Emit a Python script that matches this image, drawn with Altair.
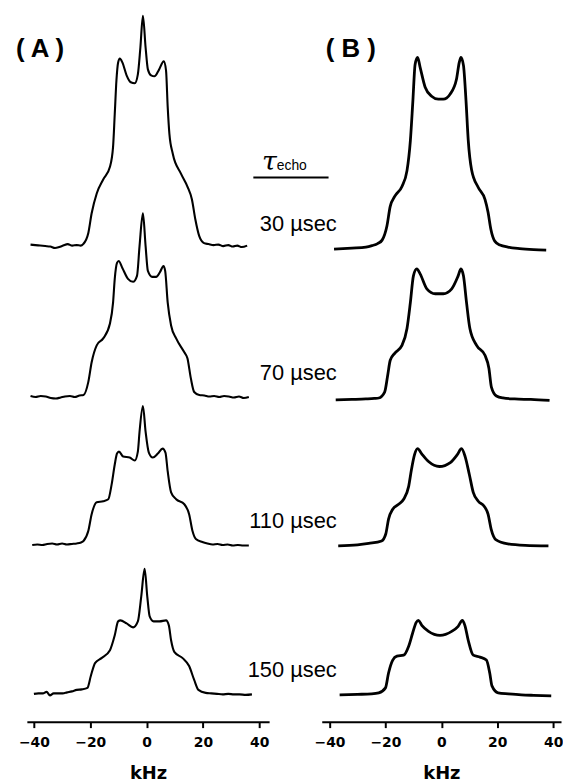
import altair as alt
import pandas as pd

# ---------------- Panel (A): experimental spectra (kHz, height above own baseline) ----------------
A1_khz = [-41.2, -39.5, -37.8, -36.0, -34.2, -32.5, -31.0, -29.6, -28.0, -26.4,
          -24.8, -23.4, -22.5, -20.7, -19.5, -17.7, -15.4, -13.0, -11.9, -11.3,
          -10.7, -10.1, -9.5, -8.6, -7.1, -5.6, -4.2, -3.1, -2.2, -1.3,
          -0.35, 0.46, 1.6, 2.8, 4.3, 6.1, 6.9, 7.5, 8.1, 9.3,
          12.2, 14.5, 16.1, 17.3, 18.7, 20.4, 22.0, 23.8, 25.5, 27.2,
          29.0, 30.6, 32.2, 33.8, 35.7]
A1_h = [1.5, 1.0, 0.5, 0.0, -0.5, -2.0, -1.0, 0.5, 2.0, 0.5,
        1.0, 0.5, 2.0, 13, 33, 53, 67, 80, 100, 133,
        167, 185, 189, 185, 172, 165, 164, 173, 200, 232,
        200, 178, 172, 171, 177, 186, 177, 140, 113, 93,
        73, 60, 47, 27, 10, 3, 2.0, 1.0, 1.5, 0.0,
        1.0, -0.5, 0.5, -1.0, 0.5]

A2_khz = [-41.2, -39.4, -37.6, -35.8, -34.0, -32.2, -30.5, -29.0, -27.2, -25.5,
          -23.8, -22.4, -20.7, -19.5, -17.7, -15.4, -13.0, -11.9, -11.3, -10.5,
          -9.9, -8.6, -6.6, -4.8, -3.4, -2.5, -1.3, -0.35, 0.46, 2.0,
          3.4, 4.8, 6.0, 6.6, 7.5, 8.7, 10.5, 13.4, 14.5, 15.7,
          16.9, 18.7, 20.5, 22.3, 24.0, 25.8, 27.5, 29.2, 31.0, 32.8,
          34.5, 36.3]
A2_h = [1.0, 0.0, 1.0, 0.5, -1.0, -1.5, -0.5, 0.5, 1.0, 0.0,
        1.5, 2.0, 15, 35, 52, 59, 74, 95, 119, 135,
        137, 130, 119, 116, 122, 152, 185, 152, 127, 121,
        121, 126, 132, 127, 95, 72, 59, 45, 39, 19,
        5, 2, 1.5, 0.5, 1.0, 0.0, 1.0, 0.5, -0.5, 0.5,
        -1.0, 0.0]

A3_khz = [-40.6, -38.8, -37.0, -35.3, -33.5, -31.8, -30.0, -28.3, -26.5, -24.8,
          -23.3, -22.4, -20.7, -19.5, -17.7, -15.4, -13.6, -12.4, -11.3, -10.5,
          -9.8, -8.3, -6.0, -4.2, -3.1, -2.5, -1.3, -0.35, 0.8, 2.2,
          4.0, 5.7, 6.7, 7.5, 8.7, 10.5, 13.4, 15.1, 16.3, 17.5,
          19.8, 21.6, 23.4, 25.2, 27.0, 28.8, 30.6, 32.4, 34.3, 36.3]
A3_h = [0.0, 0.5, 0.0, 1.0, 1.5, 0.5, 1.5, 0.5, 1.0, 1.5,
        2.5, 4, 14, 31, 43, 44, 46, 61, 81, 92,
        94, 89, 88, 85, 94, 114, 140, 114, 93, 88,
        92, 97, 93, 74, 53, 46, 41, 31, 14, 6,
        3, 1.5, 0.5, 1.0, 0.0, 0.5, -0.5, 0.0, -0.5, -0.5]

A4_khz = [-40.0, -38.4, -36.8, -35.5, -34.3, -33.0, -31.4, -29.8, -28.2, -26.5,
          -24.8, -23.0, -21.0, -19.8, -18.3, -16.0, -13.0, -11.3, -10.1, -9.3,
          -7.1, -4.8, -3.1, -1.9, -0.7, 0.25, 1.1, 2.5, 4.6, 6.9,
          7.9, 8.7, 9.9, 12.8, 15.1, 16.9, 18.4, 21.0, 23.0, 25.0,
          27.0, 29.0, 31.0, 33.0, 35.2, 37.4]
A4_h = [0.0, 0.5, 0.5, 2.0, -1.5, 0.5, 0.5, 0.5, 1.5, 2.5,
        4.0, 4.5, 6, 18, 31, 36, 44, 59, 73, 74,
        71, 67, 73, 98, 126, 98, 78, 73, 73, 74,
        69, 54, 42, 36, 28, 14, 4, 1, 0.5, 0.0,
        -0.5, 0.0, -0.5, -0.5, -1.0, -0.5]

# ---------------- Panel (B): simulated spectra ----------------
B1_khz = [-38.4, -32.0, -27.0, -24.8, -22.8, -21.2, -19.5, -18.3, -16.7, -14.1,
          -12.3, -11.1, -10.2, -9.4, -8.5, -7.6, -5.8, -3.5, -1.1, 0.7,
          3.1, 5.4, 6.4, 7.0, 7.9, 8.8, 9.6, 10.8, 13.2, 15.6,
          16.7, 17.7, 19.1, 21.0, 23.8, 28.0, 33.0, 37.5]
B1_h = [1.0, 2.0, 3.0, 4.5, 6.5, 10, 24, 44, 54, 64,
        80, 110, 150, 187, 194, 184, 164, 155, 152, 152,
        157, 172, 189, 194, 186, 151, 111, 81, 63, 51,
        38, 21, 9, 5, 3, 1.5, 0.5, 0.0]

B2_khz = [-37.8, -32.0, -27.0, -24.0, -22.4, -20.3, -19.2, -18.3, -16.7, -14.1,
          -12.3, -11.1, -10.0, -8.8, -7.6, -5.2, -2.2, 0.7, 3.7, 6.0,
          7.0, 7.9, 9.0, 10.2, 12.6, 15.6, 17.0, 17.9, 19.7, 22.0,
          26.2, 32.0, 38.7]
B2_h = [0.0, 0.5, 1.0, 1.5, 2, 8, 25, 40, 47, 55,
        72, 98, 125, 132, 127, 112, 107, 107, 112, 125,
        132, 125, 98, 72, 55, 45, 32, 13, 4, 2,
        1, 0.5, -0.5]

B3_khz = [-36.9, -30.0, -26.0, -21.4, -19.9, -18.9, -17.4, -15.3, -13.5, -11.7,
          -10.7, -9.6, -8.5, -7.1, -4.6, -0.7, 3.2, 5.7, 7.2, 8.5,
          10.0, 11.4, 13.2, 15.3, 16.7, 17.8, 19.6, 23.8, 30.0, 38.3]
B3_h = [0.0, 1.0, 2.5, 5, 12, 27, 37, 42, 47, 60,
        77, 92, 98, 93, 85, 80, 84, 92, 98, 90,
        72, 54, 45, 40, 32, 17, 6, 2, 0.5, 0.0]

B4_khz = [-36.4, -30.0, -25.0, -22.4, -20.0, -18.9, -17.4, -15.9, -13.5, -11.7,
          -10.3, -9.0, -8.2, -7.0, -4.6, -0.5, 3.7, 6.0, 7.5, 8.4,
          9.6, 11.4, 13.8, 16.1, 17.3, 18.1, 20.3, 24.0, 28.6, 33.0,
          39.3]
B4_h = [0.0, 0.5, 1.0, 2, 7, 22, 35, 39, 40, 49,
        62, 73, 75, 70, 64, 60, 64, 69, 75, 70,
        55, 40, 38, 35, 22, 9, 2, 1, 0, -0.5,
        -1.0]

# vertical stacking offsets of each trace's baseline (same units as heights)
offsets_A = [479, 327, 178, 28]
offsets_B = [475, 324, 177, 27]

tau_labels = ["30 \u00b5sec", "70 \u00b5sec", "110 \u00b5sec", "150 \u00b5sec"]
tick_values = [-40, -20, 0, 20, 40]


def build(series, offsets):
    rows = []
    for t, ((ks, hs), off) in enumerate(zip(series, offsets)):
        for i, (k, h) in enumerate(zip(ks, hs)):
            rows.append({"trace": t, "idx": i, "khz": k, "v": off + h})
    return pd.DataFrame(rows)


dfA = build([(A1_khz, A1_h), (A2_khz, A2_h), (A3_khz, A3_h), (A4_khz, A4_h)], offsets_A)
dfB = build([(B1_khz, B1_h), (B2_khz, B2_h), (B3_khz, B3_h), (B4_khz, B4_h)], offsets_B)

H = 711
yscale = alt.Scale(domain=[0, H], nice=False, zero=False)
scaleA = alt.Scale(domain=[-42.5, 43.5], nice=False, zero=False)
scaleB = alt.Scale(domain=[-42.8, 42.8], nice=False, zero=False)


def xenc(scale, field="khz"):
    return alt.X(f"{field}:Q", scale=scale, title="kHz",
                 axis=alt.Axis(values=tick_values, labelFlush=False, grid=False))


def yenc(field="v"):
    return alt.Y(f"{field}:Q", scale=yscale, axis=None)


# ---- panel A layers
linesA = alt.Chart(dfA).mark_line(color="black", strokeWidth=2.1, interpolate="monotone").encode(
    x=xenc(scaleA), y=yenc(), detail="trace:N", order="idx:Q")

lab_df = pd.DataFrame({"khz": [67.5] * 4, "v": [501, 351, 202, 52], "text": tau_labels})
labels = alt.Chart(lab_df).mark_text(align="right", baseline="middle", font="Liberation Sans",
                                     fontSize=22, color="black").encode(
    x=xenc(scaleA), y=yenc(), text="text:N")

tau_df = pd.DataFrame({"khz": [41.0], "v": [556], "text": ["\u03c4"]})
tau = alt.Chart(tau_df).mark_text(align="left", baseline="alphabetic", font="DejaVu Serif",
                                  fontSize=27, fontStyle="italic", color="black").encode(
    x=xenc(scaleA), y=yenc(), text="text:N")
echo_df = pd.DataFrame({"khz": [46.2], "v": [556], "text": ["echo"]})
echo = alt.Chart(echo_df).mark_text(align="left", baseline="alphabetic", font="Liberation Sans",
                                    fontSize=14, color="black").encode(
    x=xenc(scaleA), y=yenc(), text="text:N")
ul_df = pd.DataFrame({"khz": [37.9], "k2": [64.6], "v": [548]})
underline = alt.Chart(ul_df).mark_rule(color="black", strokeWidth=2).encode(
    x=xenc(scaleA), x2="k2:Q", y=yenc())

titleA_df = pd.DataFrame({"khz": [-46.4], "v": [677], "text": ["( A )"]})
titleA = alt.Chart(titleA_df).mark_text(align="left", baseline="middle", font="Liberation Sans",
                                        fontSize=26, fontWeight="bold", color="black").encode(
    x=xenc(scaleA), y=yenc(), text="text:N")

panelA = alt.layer(linesA, labels, tau, echo, underline, titleA).properties(width=244, height=H)

# ---- panel B layers
linesB = alt.Chart(dfB).mark_line(color="black", strokeWidth=2.8, interpolate="monotone").encode(
    x=xenc(scaleB), y=yenc(), detail="trace:N", order="idx:Q")
titleB_df = pd.DataFrame({"khz": [-41.4], "v": [677], "text": ["( B )"]})
titleB = alt.Chart(titleB_df).mark_text(align="left", baseline="middle", font="Liberation Sans",
                                        fontSize=26, fontWeight="bold", color="black").encode(
    x=xenc(scaleB), y=yenc(), text="text:N")
panelB = alt.layer(linesB, titleB).properties(width=241, height=H)

chart = alt.hconcat(panelA, panelB, spacing=53, bounds="flush").properties(
    padding={"left": 7, "top": 0, "right": 0, "bottom": 0}
).configure_view(stroke=None).configure_axis(
    domainColor="black", domainWidth=2, tickColor="black", tickWidth=2, tickSize=6,
    labelFont="DejaVu Sans", labelFontWeight="bold", labelFontSize=14, labelColor="black",
    labelPadding=8, titleFont="DejaVu Sans", titleFontWeight="bold", titleFontSize=18,
    titleColor="black", titlePadding=15
)

chart.save("out.html", embed_options={"renderer": "svg", "actions": False})
